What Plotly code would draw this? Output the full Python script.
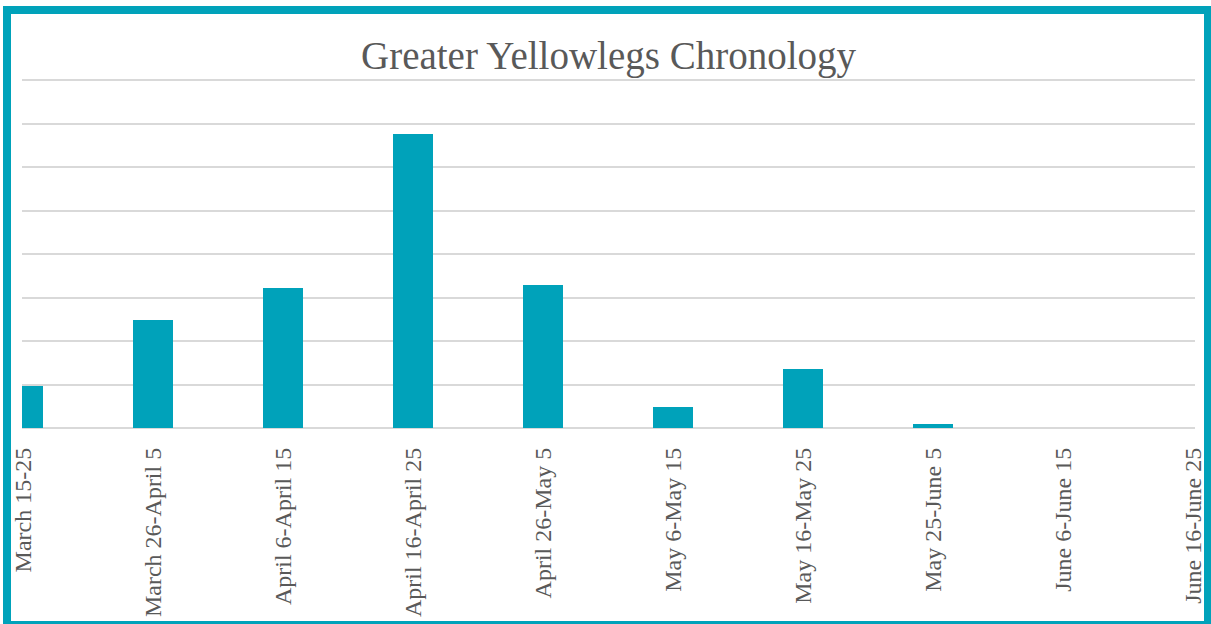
import plotly.graph_objects as go

categories = ["March 15-25", "March 26-April 5", "April 6-April 15", "April 16-April 25",
              "April 26-May 5", "May 6-May 15", "May 16-May 25", "May 25-June 5",
              "June 6-June 15", "June 16-June 25"]
counts = [0.97, 2.49, 3.23, 6.75, 3.28, 0.48, 1.36, 0.085, 0, 0]

W, H = 1211, 624
YMAX = 8.3
L, R, B = 22, 16, 196
T = round(80 - (YMAX - 8) * 348 / 8)
TEAL = "#00A2BA"
GREY = "#595959"

fig = go.Figure()
fig.add_trace(go.Bar(
    x=list(range(len(categories))), y=counts, width=0.31,
    marker=dict(color=TEAL, line=dict(width=0)),
))

pw = W - L - R
ph = H - T - B
def px(xpix):
    return (xpix - L) / pw
def py(ypix):
    return (H - B - ypix) / ph

fig.update_layout(
    width=W, height=H,
    margin=dict(l=L, r=R, t=T, b=B, pad=0, autoexpand=False),
    paper_bgcolor="white", plot_bgcolor="white",
    showlegend=False, bargap=0,
    title=dict(text="Greater Yellowlegs Chronology", x=0.5, xanchor="center",
               y=1 - 55 / H, yanchor="middle", xref="paper",
               font=dict(family="Liberation Serif", size=39, color=GREY)),
    xaxis=dict(range=[-1 / 130, 9 + 2 / 130], tickmode="array",
               tickvals=list(range(len(categories))), ticktext=categories,
               tickangle=-90, showgrid=False, zeroline=False, showline=False,
               ticks="", ticklabelstandoff=14, automargin=False,
               tickfont=dict(family="Liberation Serif", size=24, color=GREY)),
    yaxis=dict(range=[0, YMAX], tickmode="array", tickvals=list(range(0, 9)),
               showgrid=True, gridcolor="#D9D9D9", gridwidth=1.5, automargin=False,
               zeroline=True, zerolinecolor="#D9D9D9", zerolinewidth=1.5,
               showticklabels=False, ticks="", showline=False),
    shapes=[dict(type="rect", xref="paper", yref="paper",
                 x0=px(7), x1=px(1208), y0=py(625), y1=py(10),
                 line=dict(color=TEAL, width=8), layer="above")],
)

fig.write_html("out.html", config={"displayModeBar": False},
               post_script="document.body.style.margin='0';")
